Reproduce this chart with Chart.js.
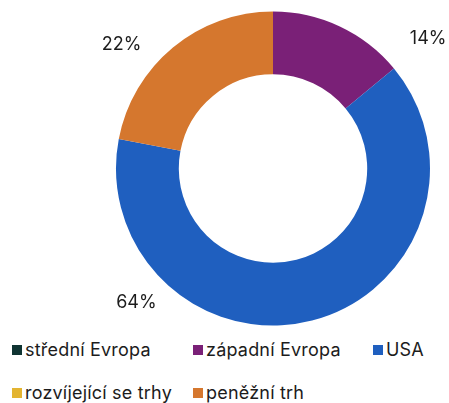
<!DOCTYPE html>
<html lang="cs">
<head>
  <meta charset="UTF-8" />
  <title>Rozložení portfolia</title>
  <script src="https://cdn.jsdelivr.net/npm/chart.js"></script>
  <style>
    body {
      margin: 0;
      background: #fff;
      font-family: Inter, "Noto Sans", sans-serif;
      color: #1c1c1c;
    }
    #wrap {
      position: relative;
      width: 449px;
      height: 403px;
    }
    #chartBox {
      position: absolute;
      left: 0;
      top: 0;
      width: 449px;
      height: 330px;
    }
    #legend {
      position: absolute;
      left: 12px;
      top: 337px;
      width: 437px;
      display: grid;
      grid-template-columns: 181px 180px auto;
      grid-auto-rows: 43px;
    }
    .item {
      display: flex;
      align-items: flex-start;
      font-size: 18px;
      letter-spacing: 0.2px;
      line-height: 26px;
      white-space: nowrap;
    }
    .box {
      width: 10px;
      height: 10px;
      margin: 8px 3px 0 0;
      flex: none;
    }
  </style>
</head>
<body>
  <div id="wrap">
    <div id="chartBox"><canvas id="donut"></canvas></div>
    <div id="legend"></div>
  </div>

  <script>
    const categories = ["střední Evropa", "západní Evropa", "USA", "rozvíjející se trhy", "peněžní trh"];
    const shares = [0, 14, 64, 0, 22];
    const colors = ["#0f3432", "#7a2077", "#1f5fbf", "#e3b431", "#d5772e"];

    // where the outside labels sit (angle in degrees, distance as factor of outer radius)
    const labelPlace = {
      1: { angle: -40, dist: 1.29 },
      2: { angle: 135.5, dist: 1.22 },
      4: { angle: -140.8, dist: 1.245 }
    };

    const outsideLabels = {
      id: "outsideLabels",
      afterDraw(chart) {
        const ctx = chart.ctx;
        const meta = chart.getDatasetMeta(0);
        ctx.save();
        ctx.font = "18px Inter, 'Noto Sans', sans-serif";
        ctx.fillStyle = "#1c1c1c";
        ctx.textAlign = "center";
        ctx.textBaseline = "middle";
        meta.data.forEach((arc, i) => {
          const v = shares[i];
          if (!v) return;
          const p = labelPlace[i];
          const a = p.angle * Math.PI / 180;
          const r = arc.outerRadius * p.dist;
          ctx.fillText(v + "%", arc.x + Math.cos(a) * r, arc.y + Math.sin(a) * r);
        });
        ctx.restore();
      }
    };

    new Chart(document.getElementById("donut"), {
      type: "doughnut",
      data: {
        labels: categories,
        datasets: [{
          data: shares,
          backgroundColor: colors,
          borderWidth: 0
        }]
      },
      options: {
        responsive: true,
        maintainAspectRatio: false,
        animation: false,
        cutout: "60%",
        layout: { padding: { left: 116, right: 19, top: 11, bottom: 4 } },
        plugins: {
          legend: { display: false },
          tooltip: { enabled: false }
        }
      },
      plugins: [outsideLabels]
    });

    const legend = document.getElementById("legend");
    categories.forEach((name, i) => {
      const item = document.createElement("div");
      item.className = "item";
      item.innerHTML = `<span class="box" style="background:${colors[i]}"></span><span>${name}</span>`;
      legend.appendChild(item);
    });
  </script>
</body>
</html>
